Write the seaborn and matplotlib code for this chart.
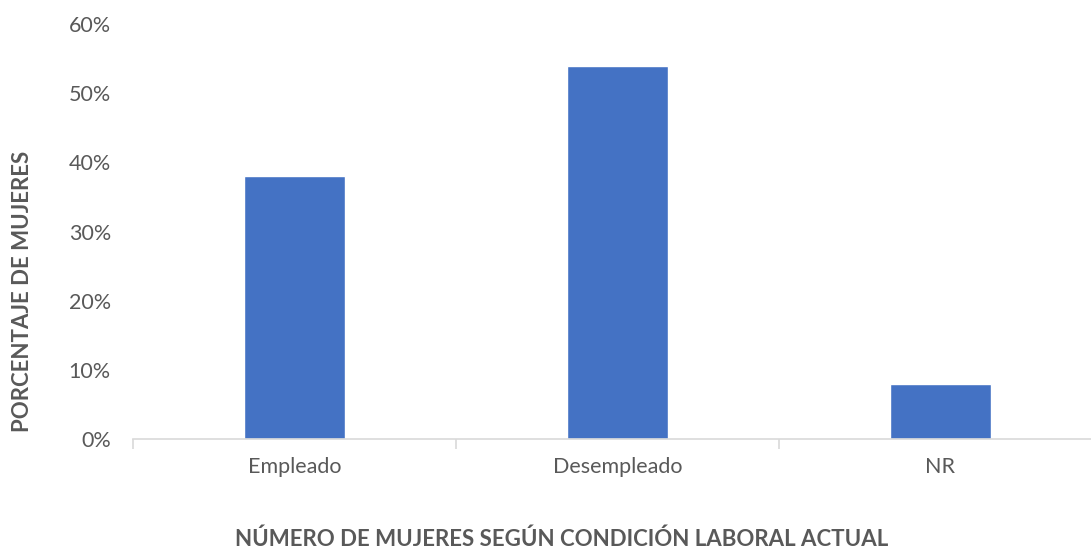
import matplotlib
matplotlib.use("Agg")
import matplotlib.pyplot as plt
import seaborn as sns
import pandas as pd
from matplotlib.ticker import PercentFormatter, FixedLocator

sns.set_theme(style="white")
plt.rcParams['font.family'] = ['Lato', 'DejaVu Sans']

# Data
categories = ["Empleado", "Desempleado", "NR"]
percentages = [0.38, 0.54, 0.08]
y_ticks = [0.0, 0.1, 0.2, 0.3, 0.4, 0.5, 0.6]

df = pd.DataFrame({"condicion": categories, "porcentaje": percentages})

GRAY = "#595959"
BLUE = "#4472C4"

fig = plt.figure(figsize=(10.91, 5.48), dpi=100)
# axis runs slightly past the right edge, as in the original
ax = fig.add_axes([0.122, 0.199, 0.888, 0.757])

sns.barplot(data=df, x="condicion", y="porcentaje", color=BLUE,
            width=0.313, saturation=1, ax=ax)

ax.set_xlim(-0.5, 2.5)
ax.set_ylim(0, 0.6)
ax.set_yticks(y_ticks)
ax.yaxis.set_major_formatter(PercentFormatter(1.0, decimals=0))

for s in ["top", "right", "left"]:
    ax.spines[s].set_visible(False)
ax.spines["bottom"].set_color("#d9d9d9")
ax.spines["bottom"].set_linewidth(1.2)

ax.tick_params(axis="y", length=0, labelsize=15.5, labelcolor=GRAY, pad=16)
ax.tick_params(axis="x", which="major", length=0, labelsize=15.5, labelcolor=GRAY, pad=13)
ax.xaxis.set_minor_locator(FixedLocator([-0.5, 0.5, 1.5, 2.5]))
ax.tick_params(axis="x", which="minor", bottom=True, length=7, width=1.2, color="#d9d9d9")

ax.set_xlabel("NÚMERO DE MUJERES SEGÚN CONDICIÓN LABORAL ACTUAL",
              fontsize=16, fontweight="bold", color=GRAY)
ax.set_ylabel("PORCENTAJE DE MUJERES", fontsize=16, fontweight="bold", color=GRAY)
ax.xaxis.set_label_coords(0.442, -0.215)
ax.yaxis.set_label_coords(-0.103, 0.355)

fig.savefig("out.png", dpi=100)
plt.close(fig)
